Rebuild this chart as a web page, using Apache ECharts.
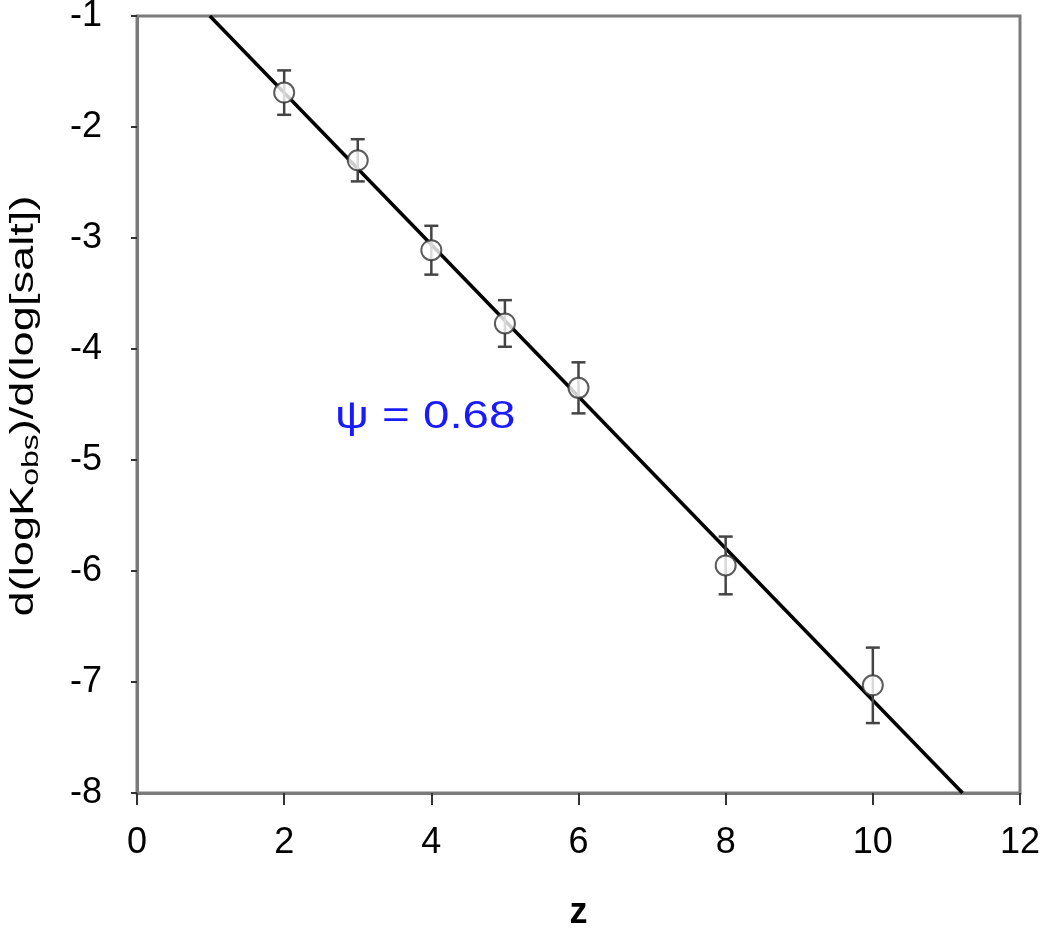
<!DOCTYPE html>
<html>
<head>
<meta charset="utf-8">
<script src="https://cdn.jsdelivr.net/npm/echarts@6/dist/echarts.min.js"></script>
<style>
  html, body { margin: 0; padding: 0; background: #fff; }
  #chart { width: 1040px; height: 933px; }
</style>
</head>
<body>
<div id="chart"></div>
<script>
// measured points
var zValues = [2, 3, 4, 5, 6, 8, 10]
var slopeValues = [-1.69, -2.30, -3.11, -3.77, -4.35, -5.95, -7.03]
var errValues = [0.20, 0.19, 0.22, 0.21, 0.23, 0.26, 0.34]
// fitted line end points (z, value)
var fitLine = [[0.99, -1], [11.22, -8]]
var xTicks = [0, 2, 4, 6, 8, 10, 12]
var yTicks = [-8, -7, -6, -5, -4, -3, -2, -1]

var points = zValues.map(function(z, i) { return [z, slopeValues[i]] })
var bars = zValues.map(function(z, i) {
  return [z, slopeValues[i] - errValues[i], slopeValues[i] + errValues[i]]
})

var axisGray = '#7a7a7a'
var font = '"Liberation Sans", Arial, sans-serif'

var myChart = echarts.init(document.getElementById('chart'))
var option = {
  animation: false,
  grid: {
    left: 137, right: 20, top: 16, bottom: 140,
    outerBoundsMode: 'none',
    containLabel: false,
    show: true,
    borderColor: axisGray,
    borderWidth: 3
  },
  xAxis: {
    type: 'value',
    min: xTicks[0], max: xTicks[xTicks.length - 1], interval: 2,
    name: 'z',
    nameLocation: 'middle',
    nameGap: 102,
    nameTextStyle: { fontFamily: font, fontSize: 36, fontWeight: 'bold', color: '#000' },
    axisLine: { lineStyle: { color: axisGray, width: 3 } },
    axisTick: { length: 12, lineStyle: { color: '#333', width: 2 } },
    axisLabel: { margin: 32, fontFamily: font, fontSize: 36, color: '#000' },
    splitLine: { show: false }
  },
  yAxis: {
    type: 'value',
    min: yTicks[0], max: yTicks[yTicks.length - 1], interval: 1,
    axisLine: { lineStyle: { color: axisGray, width: 3 } },
    axisTick: { length: 6, lineStyle: { color: '#333', width: 2 } },
    axisLabel: { margin: 35, fontFamily: font, fontSize: 36, color: '#000' },
    splitLine: { show: false }
  },
  graphic: [
    {
      // y axis title, stretched along its length like the original
      type: 'text',
      x: 24,
      y: 406,
      rotation: Math.PI / 2,
      scaleX: 1.33,
      style: {
        text: 'd(logK{sub|obs})/d(log[salt])',
        fill: '#000',
        font: '34px "Liberation Sans", Arial, sans-serif',
        align: 'center',
        verticalAlign: 'middle',
        rich: {
          sub: { fontSize: 24, fontFamily: 'Liberation Sans', verticalAlign: 'bottom', padding: [14, 0, 0, 0] }
        }
      }
    },
    {
      type: 'text',
      x: 335,
      y: 418,
      scaleX: 1.25,
      style: {
        text: 'ψ = 0.68',
        fill: '#1a1aff',
        font: '38px "Liberation Sans", Arial, sans-serif',
        align: 'left',
        verticalAlign: 'middle'
      }
    }
  ],
  series: [
    {
      type: 'line',
      data: fitLine,
      symbol: 'none',
      lineStyle: { color: '#000', width: 3.5 },
      z: 2
    },
    {
      type: 'custom',
      data: bars,
      z: 3,
      renderItem: function(params, api) {
        var top = api.coord([api.value(0), api.value(2)])
        var bot = api.coord([api.value(0), api.value(1)])
        var cap = 7
        var style = { stroke: '#444', lineWidth: 2.5 }
        return {
          type: 'group',
          children: [
            { type: 'line', shape: { x1: top[0], y1: top[1], x2: bot[0], y2: bot[1] }, style: style },
            { type: 'line', shape: { x1: top[0] - cap, y1: top[1], x2: top[0] + cap, y2: top[1] }, style: style },
            { type: 'line', shape: { x1: bot[0] - cap, y1: bot[1], x2: bot[0] + cap, y2: bot[1] }, style: style }
          ]
        }
      }
    },
    {
      type: 'scatter',
      data: points,
      symbol: 'circle',
      symbolSize: 20,
      itemStyle: { color: '#fff', borderColor: '#333', borderWidth: 2 },
      z: 4
    }
  ]
}
myChart.setOption(option)
</script>
</body>
</html>
